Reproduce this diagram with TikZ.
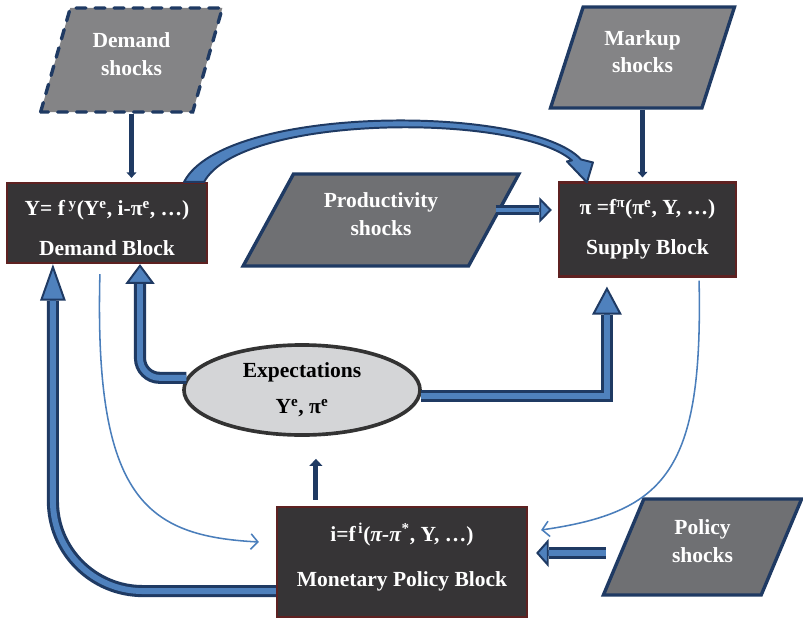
\documentclass[tikz,border=0pt]{standalone}
\usepackage{fontspec}
\setmainfont{Liberation Serif}
\usetikzlibrary{arrows.meta,calc,shapes.geometric}
\definecolor{dkblue}{HTML}{1F3A63}
\definecolor{ltblue}{HTML}{4F81BD}
\definecolor{thinblue}{HTML}{4A7EBB}
\definecolor{boxgray}{HTML}{363436}
\definecolor{dkred}{HTML}{5E2121}
\definecolor{shockgray}{HTML}{848486}
\definecolor{darkshock}{HTML}{6F7073}
\definecolor{expgray}{HTML}{D4D5D7}
\definecolor{ringgray}{HTML}{333333}
\tikzset{
	blockbox/.style={rectangle, draw=dkred, line width=1.5pt, fill=boxgray, text=white,
			align=center, inner sep=0pt, font=\fontsize{15.3}{28.3}\selectfont\bfseries},
	shockbox/.style={trapezium, trapezium stretches=true, draw=dkblue, line width=2.4pt,
			fill=#1, text=white, align=center, inner sep=0pt, text depth=8.5pt,
			font=\fontsize{15.3}{19.8}\selectfont\bfseries},
	fatarrow/.style n args={3}{line width=#3, draw=ltblue,
			-{Triangle[color=dkblue, fill=ltblue, line width=1.4pt, length=#1, width=#2]},
			preaction={-, draw=dkblue, line width=#3+4.4pt, shorten >=#1}},
	feed/.style={draw=dkblue, line width=3.5pt, -{Triangle[length=4pt, width=7pt]}},
	thinarrow/.style={draw=thinblue, line width=1.1pt, -{Straight Barb[length=5pt, width=11pt]}},
	bendarrow/.style={fill=ltblue, draw=dkblue, line width=1.4pt, line join=round}
}
\begin{document}
\begin{tikzpicture}[x=0.025cm, y=-0.025cm]
	\useasboundingbox (0,0) rectangle (803,619);

	% Blocks
	\node[blockbox, minimum width=5cm, minimum height=2cm, text height=46.3pt] (dem) at (107,223)
		{Y= f\,\textsuperscript{y}(Y\textsuperscript{e}, i-π\textsuperscript{e}, …)\\Demand Block};
	\node[blockbox, minimum width=4.425cm, minimum height=2.35cm] (sup) at (647.5,229.5)
		{π =f\textsuperscript{π}(π\textsuperscript{e}, Y, …)\\Supply Block};
	\node[blockbox, minimum width=6.25cm, minimum height=2.75cm, text depth=10pt] (mon) at (402,562)
		{i=f\textsuperscript{\,i}(\textit{π-π}\textsuperscript{*}, Y, …)\\[4pt]Monetary Policy Block};

	% Expectations
	\node[ellipse, draw=ringgray, line width=2.6pt, fill=expgray, minimum width=5.9cm,
		minimum height=2.25cm, align=center, font=\fontsize{15.3}{25.5}\selectfont\bfseries]
		(exp) at (302,390) {Expectations\\Y\textsuperscript{e}, π\textsuperscript{e}};

	% Shocks
	\node[shockbox=shockgray, dash pattern=on 7pt off 6.5pt, line cap=round,
		trapezium left angle=71, trapezium right angle=109,
		minimum width=4.575cm, minimum height=2.6cm] (dshock) at (131.5,60) {Demand\\shocks};
	\node[shockbox=shockgray, trapezium left angle=69, trapezium right angle=111,
		minimum width=4.625cm, minimum height=2.525cm] (mshock) at (642.5,57.5) {Markup\\shocks};
	\node[shockbox=darkshock, trapezium left angle=59, trapezium right angle=121,
		minimum width=6.9cm, minimum height=2.3cm] (prod) at (381,220) {Productivity\\shocks};
	\node[shockbox=darkshock, trapezium left angle=69, trapezium right angle=111,
		minimum width=4.975cm, minimum height=2.4cm] (pol) at (702.5,547) {Policy\\shocks};

	% Shocks into the blocks
	\draw[feed] (dshock.center |- dshock.south) -- ($(dshock.center |- dem.north)+(0,-4)$);
	\draw[feed] (mshock.center |- mshock.south) -- ($(mshock.center |- sup.north)+(0,-4)$);
	\coordinate (p1) at ($(prod.east)+(0,-10)$);
	\draw[fatarrow={9pt}{18pt}{3pt}] (p1) -- ($(p1 -| sup.west)+(-6,0)$);
	\coordinate (q1) at ($(pol.west)+(-16,6)$);
	\draw[fatarrow={9pt}{20pt}{4.2pt}] (q1) -- ($(q1 -| mon.east)+(8,0)$);

	% Demand to supply
	\draw[bendarrow] ($(dem.north east)+(-24,0)$) .. controls +(40,-78) and +(-50,-55) ..
		($(sup.north west)+(23,-22)$) -- ++(12,3) -- ($(sup.north west)+(29,1)$)
		-- ($(sup.north west)+(9,-20)$) -- ++(5,-1) .. controls +(-55,-48) and +(37,-68) ..
		($(dem.north east)+(-4,0)$) -- cycle;

	% Expectations into the blocks
	\draw[fatarrow={14pt}{20.5pt}{4.2pt}, rounded corners=14pt] (exp.174) -| ($(dem.south)+(33,0)$);
	\draw[fatarrow={20pt}{21pt}{4.2pt}] (exp.357) -| ($(sup.south west)+(49,9)$);

	% Policy back to demand and expectations
	\draw[fatarrow={26pt}{18pt}{4.2pt}, rounded corners=64pt]
		($(mon.south west)+(0,-27)$) -| ($(dem.south west)+(47,0)$);
	\coordinate (m1) at ($(mon.north west)+(40,-6)$);
	\draw[feed, -{Triangle[length=5pt, width=9pt]}] (m1) -- ($(m1 |- exp.south)+(0,22)$);

	% Output and inflation into the policy rule
	\draw[thinarrow] ($(dem.south west)+(94,10)$) .. controls +(-6,226) and +(-112,-6) ..
		($(mon.west)+(-17,-20)$);
	\draw[thinarrow] ($(sup.south east)+(-38,3)$) .. controls +(4,190) and +(125,-18) ..
		($(mon.east)+(13,-32)$);
\end{tikzpicture}
\end{document}
